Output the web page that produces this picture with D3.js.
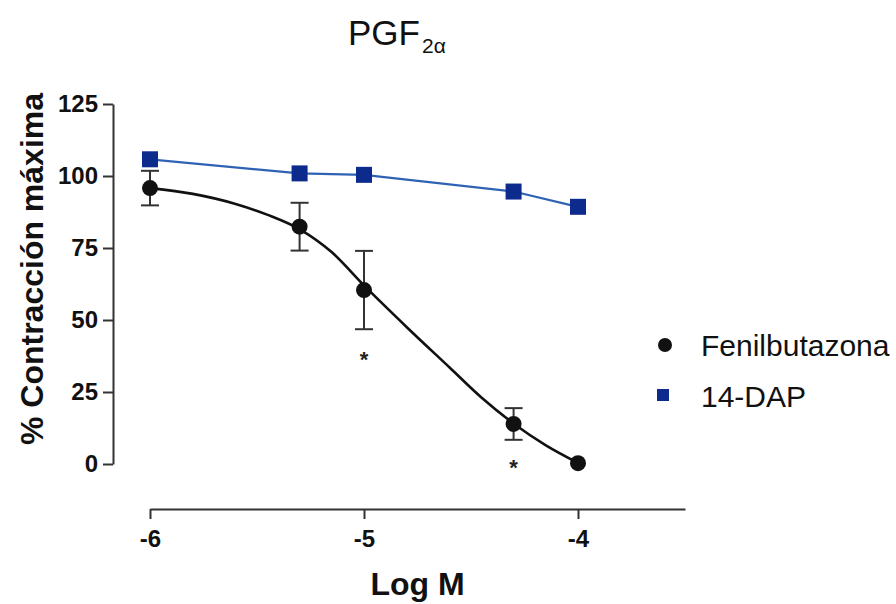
<!DOCTYPE html>
<html>
<head>
<meta charset="utf-8">
<script src="https://cdn.jsdelivr.net/npm/d3@7"></script>
<style>
  body { margin: 0; background: #fff; }
  svg { font-family: "Liberation Sans", Arial, sans-serif; }
</style>
</head>
<body>
<div id="chart"></div>
<script>
// values
const logM = [-6, -5.301, -5, -4.301, -4];
const fenil = [95.8, 82.4, 60.4, 13.9, 0.3];
const fenilErr = [6, 8.3, 13.6, 5.5, 0];
const dap = [105.8, 100.9, 100.4, 94.6, 89.3];
// fitted sigmoid
const fitLogM = [-6, -5.8, -5.6, -5.45, -5.3, -5.15, -5, -4.8, -4.6, -4.45, -4.3, -4.15, -4];
const fitPct = [95.8, 93.8, 90.3, 86.5, 81.5, 73.5, 62, 47.5, 33.5, 23, 14, 6.5, 0.4];
const yTicks = [0, 25, 50, 75, 100, 125];
const xTicks = [-6, -5, -4];
const seriesNames = ["Fenilbutazona", "14-DAP"];
const starAt = [-5, -4.301];

const width = 896, height = 604;
const black = "#111", blue = "#0d2b8c", blueLine = "#2f62b5", axisCol = "#333";

const svg = d3.select("#chart").append("svg")
    .attr("width", width)
    .attr("height", height);

const x = d3.scaleLinear().domain([-6, -3.5]).range([150, 685]);
const y = d3.scaleLinear().domain([0, 125]).range([464, 104]);
const xAxisY = 509, yAxisX = 113;

// axes
const gy = svg.append("g")
    .attr("transform", `translate(${yAxisX},0)`)
    .call(d3.axisLeft(y).tickValues(yTicks).tickSize(10).tickSizeOuter(0).tickPadding(5));
const gx = svg.append("g")
    .attr("transform", `translate(0,${xAxisY})`)
    .call(d3.axisBottom(x).tickValues(xTicks).tickSize(10).tickSizeOuter(0).tickPadding(8)
        .tickFormat(d => d));
[gy, gx].forEach(g => {
    g.selectAll("path, line").attr("stroke", axisCol).attr("stroke-width", 2);
    g.selectAll("text").attr("fill", "#111").attr("font-size", 24).attr("font-weight", "bold")
        .attr("font-family", "'Liberation Sans', Arial, sans-serif");
});
gx.selectAll("text").attr("dy", "0.85em");

// axis titles
svg.append("text")
    .attr("transform", "translate(43,269) rotate(-90)")
    .attr("text-anchor", "middle")
    .attr("font-size", 32).attr("font-weight", "bold").attr("fill", "#111")
    .text("% Contracción máxima");
svg.append("text")
    .attr("x", x(-4.75)).attr("y", 595)
    .attr("text-anchor", "middle")
    .attr("font-size", 32).attr("font-weight", "bold").attr("fill", "#111")
    .text("Log M");

// title
const title = svg.append("text")
    .attr("x", 348).attr("y", 45)
    .attr("font-size", 35).attr("fill", "#111");
title.append("tspan").text("PGF");
title.append("tspan").attr("font-size", 21).attr("dy", 8).attr("dx", 2).text("2α");

// 14-DAP line
svg.append("path")
    .datum(d3.zip(logM, dap))
    .attr("fill", "none").attr("stroke", blueLine).attr("stroke-width", 2.2)
    .attr("d", d3.line().x(d => x(d[0])).y(d => y(d[1])));

// fitted curve for Fenilbutazona
svg.append("path")
    .datum(d3.zip(fitLogM, fitPct))
    .attr("fill", "none").attr("stroke", black).attr("stroke-width", 2.6)
    .attr("d", d3.line().x(d => x(d[0])).y(d => y(d[1])).curve(d3.curveMonotoneX));

// error bars
const eb = svg.append("g").attr("stroke", axisCol).attr("stroke-width", 2);
logM.forEach((v, i) => {
    if (!fenilErr[i]) return;
    const cx = x(v), top = y(fenil[i] + fenilErr[i]), bot = y(fenil[i] - fenilErr[i]);
    eb.append("line").attr("x1", cx).attr("x2", cx).attr("y1", top).attr("y2", bot);
    eb.append("line").attr("x1", cx - 9).attr("x2", cx + 9).attr("y1", top).attr("y2", top);
    eb.append("line").attr("x1", cx - 9).attr("x2", cx + 9).attr("y1", bot).attr("y2", bot);
});

// markers
svg.append("g").selectAll("rect")
    .data(d3.zip(logM, dap))
    .join("rect")
    .attr("x", d => x(d[0]) - 8).attr("y", d => y(d[1]) - 8)
    .attr("width", 16).attr("height", 16)
    .attr("fill", blue);
svg.append("g").selectAll("circle")
    .data(d3.zip(logM, fenil))
    .join("circle")
    .attr("cx", d => x(d[0])).attr("cy", d => y(d[1]))
    .attr("r", 8)
    .attr("fill", black);

// significance stars
svg.append("g").selectAll("text")
    .data(starAt)
    .join("text")
    .attr("x", d => x(d))
    .attr("y", (d, i) => i == 0 ? 367 : 475)
    .attr("text-anchor", "middle")
    .attr("font-size", 22).attr("font-weight", "bold").attr("fill", "#222")
    .text("*");

// legend
const legend = svg.append("g");
legend.append("circle").attr("cx", 665).attr("cy", 345).attr("r", 7).attr("fill", black);
legend.append("rect").attr("x", 657).attr("y", 389).attr("width", 12).attr("height", 12).attr("fill", blue);
legend.selectAll("text")
    .data(seriesNames)
    .join("text")
    .attr("x", 701)
    .attr("y", (d, i) => 356 + i * 51)
    .attr("font-size", 30).attr("fill", "#111")
    .text(d => d);
</script>
</body>
</html>
